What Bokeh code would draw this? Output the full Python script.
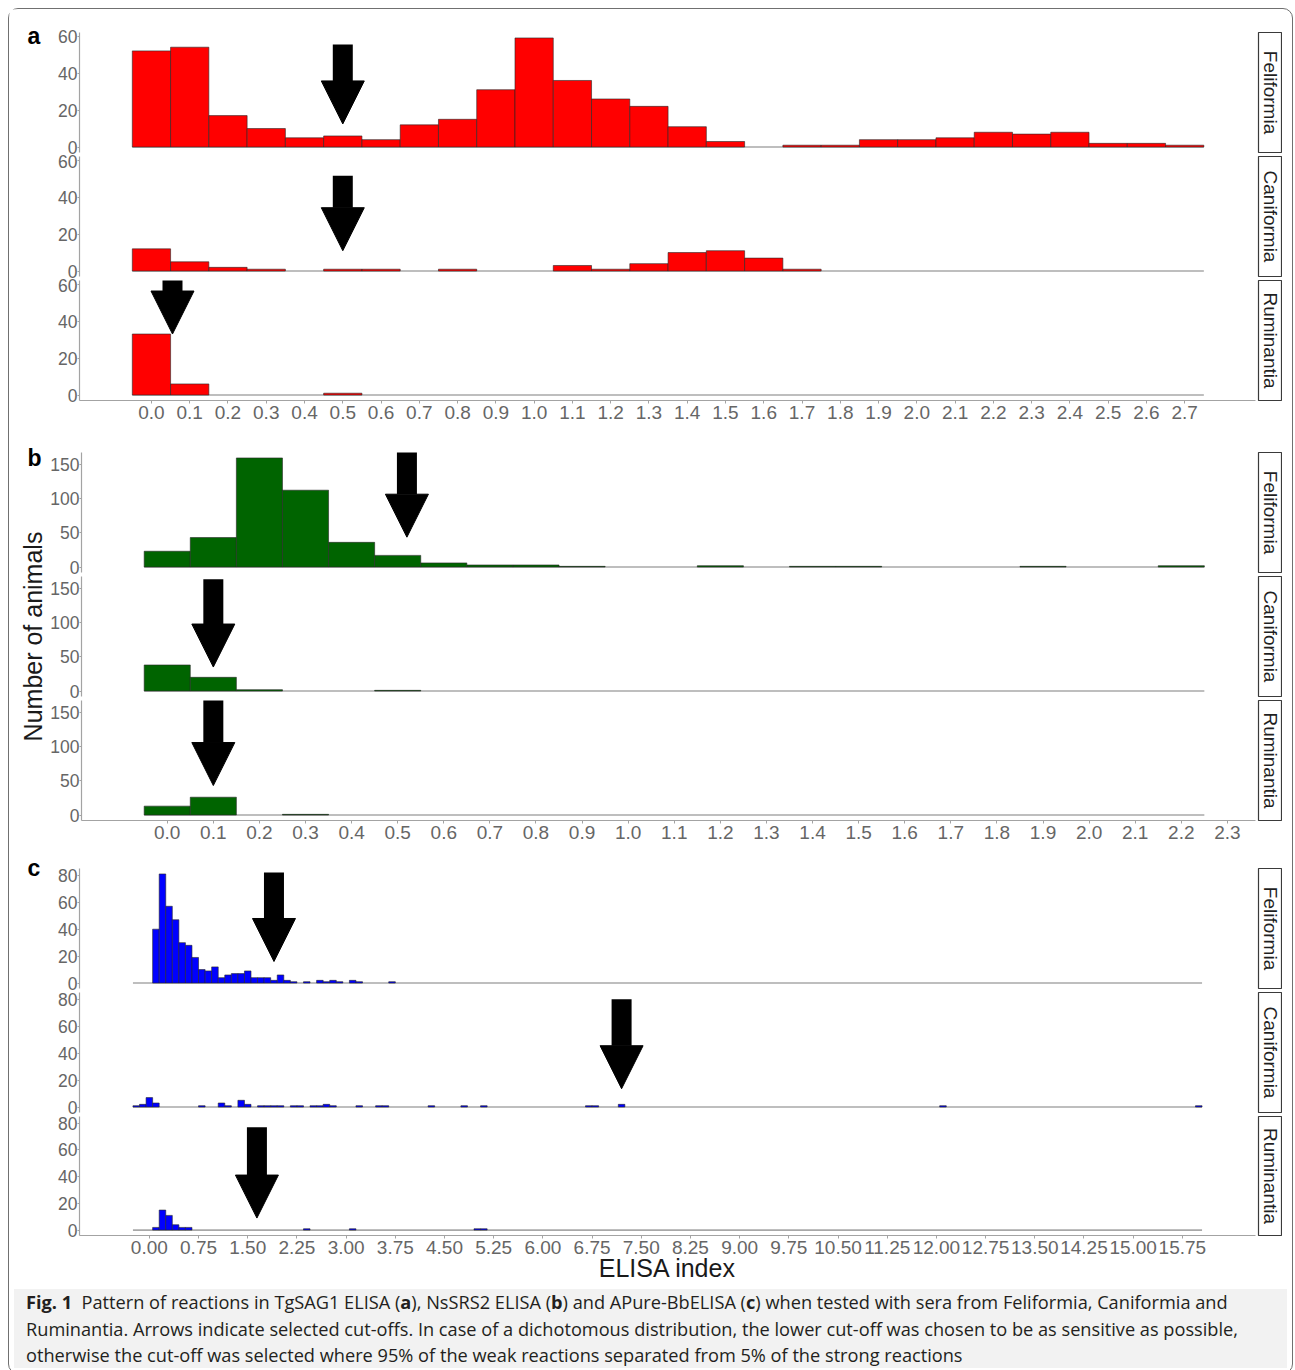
import numpy as np
from bokeh.plotting import figure
from bokeh.layouts import column, row
from bokeh.models import (Range1d, FixedTicker, NumeralTickFormatter, Arrow,
                          NormalHead, Div, AllLabels)
from bokeh.core.properties import value
from bokeh.embed import file_html
from bokeh.resources import INLINE

# ---------------------------------------------------------------- data
GROUPS = ["Feliformia", "Caniformia", "Ruminantia"]
BIN = 0.1  # histogram bin width (ELISA index units)

# panel a : TgSAG1 ELISA
a_centers = [0.0, 0.1, 0.2, 0.3, 0.4, 0.5, 0.6, 0.7, 0.8, 0.9, 1.0, 1.1, 1.2, 1.3,
             1.4, 1.5, 1.6, 1.7, 1.8, 1.9, 2.0, 2.1, 2.2, 2.3, 2.4, 2.5, 2.6, 2.7]
a_feli = [52, 54, 17, 10, 5, 6, 4, 12, 15, 31, 59, 36, 26, 22,
          11, 3, 0, 1, 1, 4, 4, 5, 8, 7, 8, 2, 2, 1]
a_cani = [12, 5, 2, 1, 0, 1, 1, 0, 1, 0, 0, 3, 1, 4,
          10, 11, 7, 1, 0, 0, 0, 0, 0, 0, 0, 0, 0, 0]
a_rumi = [33, 6, 0, 0, 0, 1, 0, 0, 0, 0, 0, 0, 0, 0,
          0, 0, 0, 0, 0, 0, 0, 0, 0, 0, 0, 0, 0, 0]
a_xticks = [0.0, 0.1, 0.2, 0.3, 0.4, 0.5, 0.6, 0.7, 0.8, 0.9, 1.0, 1.1, 1.2, 1.3,
            1.4, 1.5, 1.6, 1.7, 1.8, 1.9, 2.0, 2.1, 2.2, 2.3, 2.4, 2.5, 2.6, 2.7]
a_yticks = [0, 20, 40, 60]
a_cut_x = [0.5, 0.5, 0.055]
a_arrow_top = [55.5, 51.5, 64.0]
a_arrow_tip = [12.5, 11.0, 33.0]

# panel b : NsSRS2 ELISA
b_centers = [0.0, 0.1, 0.2, 0.3, 0.4, 0.5, 0.6, 0.7, 0.8, 0.9, 1.0, 1.1,
             1.2, 1.3, 1.4, 1.5, 1.6, 1.7, 1.8, 1.9, 2.0, 2.1, 2.2]
b_feli = [23, 43, 159, 112, 36, 17, 6, 3, 3, 1, 0, 0,
          2, 0, 1, 1, 0, 0, 0, 1, 0, 0, 2]
b_cani = [38, 20, 2, 0, 0, 1, 0, 0, 0, 0, 0, 0,
          0, 0, 0, 0, 0, 0, 0, 0, 0, 0, 0]
b_rumi = [13, 26, 0, 1, 0, 0, 0, 0, 0, 0, 0, 0,
          0, 0, 0, 0, 0, 0, 0, 0, 0, 0, 0]
b_xticks = [0.0, 0.1, 0.2, 0.3, 0.4, 0.5, 0.6, 0.7, 0.8, 0.9, 1.0, 1.1,
            1.2, 1.3, 1.4, 1.5, 1.6, 1.7, 1.8, 1.9, 2.0, 2.1, 2.2, 2.3]
b_yticks = [0, 50, 100, 150]
b_cut_x = [0.52, 0.1, 0.1]
b_arrow_top = [183.0, 163.0, 170.0]
b_arrow_tip = [43.5, 35.0, 43.0]

# panel c : APure-BbELISA (only non-empty bins listed; bins run from -0.2 to 16.0)
c_bin_lo, c_bin_hi = -0.2, 16.0
c_feli_x = [0.1, 0.2, 0.3, 0.4, 0.5, 0.6, 0.7, 0.8, 0.9, 1.0, 1.1, 1.2, 1.3, 1.4,
            1.5, 1.6, 1.7, 1.8, 1.9, 2.0, 2.1, 2.2, 2.4, 2.6, 2.7, 2.8, 2.9, 3.1, 3.2, 3.7]
c_feli_n = [40, 81, 57, 47, 30, 28, 19, 10, 9, 12, 4, 6, 7, 7,
            9, 4, 4, 4, 2, 6, 2, 1, 1, 2, 1, 2, 1, 2, 1, 1]
c_cani_x = [-0.2, -0.1, 0.0, 0.1, 0.8, 1.1, 1.2, 1.4, 1.5, 1.7, 1.8, 1.9, 2.0, 2.2, 2.3,
            2.5, 2.6, 2.7, 2.8, 3.2, 3.5, 3.6, 4.3, 4.8, 5.1, 6.7, 6.8, 7.2, 12.1, 16.0]
c_cani_n = [1, 2, 7, 3, 1, 3, 1, 5, 2, 1, 1, 1, 1, 1, 1,
            1, 1, 2, 1, 1, 1, 1, 1, 1, 1, 1, 1, 2, 1, 1]
c_rumi_x = [0.1, 0.2, 0.3, 0.4, 0.5, 0.6, 2.4, 3.1, 5.0, 5.1]
c_rumi_n = [2, 15, 11, 4, 2, 2, 1, 1, 1, 1]
c_xticks = [0.0, 0.75, 1.5, 2.25, 3.0, 3.75, 4.5, 5.25, 6.0, 6.75, 7.5, 8.25, 9.0,
            9.75, 10.5, 11.25, 12.0, 12.75, 13.5, 14.25, 15.0, 15.75]
c_yticks = [0, 20, 40, 60, 80]
c_cut_x = [1.9, 7.2, 1.64]
c_arrow_top = [82.0, 80.0, 77.0]
c_arrow_tip = [16.0, 13.6, 9.0]

Y_TITLE = "Number of animals"
X_TITLE = "ELISA index"
CAPTION = ('<b>Fig. 1</b>&nbsp; Pattern of reactions in TgSAG1 ELISA (<b>a</b>), NsSRS2 ELISA (<b>b</b>) '
           'and APure-BbELISA (<b>c</b>) when tested with sera from Feliformia, Caniformia and<br>'
           'Ruminantia. Arrows indicate selected cut-offs. In case of a dichotomous distribution, '
           'the lower cut-off was chosen to be as sensitive as possible,<br>'
           'otherwise the cut-off was selected where 95% of the weak reactions separated from 5% '
           'of the strong reactions')

# ---------------------------------------------------------------- style
FONT = "Liberation Sans"
SIDE_W = 38                     # strip of page holding panel letters / y title
LEFT_B, FRAME_W, RIGHT_B = 32, 1176, 2
FRAME_H = 120
AXIS_C = "#a3a3a3"
TICK_TXT = "#666666"
BAR_LINE = "#262626"


def style_axis(ax, size):
    ax.axis_line_color = AXIS_C
    ax.axis_line_width = 1.2
    ax.major_tick_line_color = AXIS_C
    ax.major_tick_out = 2
    ax.major_tick_in = 0
    ax.minor_tick_line_color = None
    ax.major_label_text_font = FONT
    ax.major_label_text_font_size = size
    ax.major_label_text_color = TICK_TXT
    ax.major_label_standoff = 0
    ax.major_label_policy = AllLabels()


def facet(centers, counts, color, xr, yr, yticks, lo, hi, top_b, bot_b,
          cut, a_top, a_tip, xticks=None, fmt=None):
    h = top_b + FRAME_H + bot_b
    p = figure(width=LEFT_B + FRAME_W + RIGHT_B, height=h,
               x_range=Range1d(*xr), y_range=Range1d(*yr),
               output_backend="svg", toolbar_location=None,
               x_axis_location="below" if xticks is not None else None,
               min_border_left=LEFT_B, min_border_right=RIGHT_B,
               min_border_top=top_b, min_border_bottom=bot_b)
    p.outline_line_color = None
    p.grid.visible = False
    p.border_fill_color = "white"
    # zero line spanning every bin (empty bins)
    p.segment(x0=[lo - BIN / 2], y0=[0], x1=[hi + BIN / 2], y1=[0],
              line_color="#a8a8a8", line_width=1.6)
    c = np.asarray(centers, float)
    n = np.asarray(counts, float)
    m = n > 0
    p.quad(left=c[m] - BIN / 2, right=c[m] + BIN / 2, bottom=0, top=n[m],
           fill_color=color, line_color=BAR_LINE, line_width=0.6)
    ya = p.yaxis[0]
    ya.ticker = FixedTicker(ticks=yticks)
    style_axis(ya, "17.5px")
    if xticks is not None:
        xa = p.xaxis[0]
        xa.ticker = FixedTicker(ticks=xticks)
        xa.formatter = NumeralTickFormatter(format=fmt)
        style_axis(xa, "19px")
        xa.major_tick_out = 3
        xa.major_label_standoff = 2
    # cut-off arrow
    p.add_layout(Arrow(x_start=cut, y_start=a_top, x_end=cut, y_end=a_tip,
                       line_color="black", line_width=20, line_cap="butt",
                       end=NormalHead(size=43, fill_color="black",
                                      line_color="black", line_width=1)))
    return p


def strip(label, top_b, bot_b):
    s = figure(width=25, height=top_b + FRAME_H + bot_b,
               x_range=Range1d(0, 1), y_range=Range1d(0, 1),
               output_backend="svg", toolbar_location=None,
               x_axis_location=None, y_axis_location=None,
               min_border_left=1, min_border_right=1,
               min_border_top=top_b, min_border_bottom=bot_b)
    s.grid.visible = False
    s.outline_line_color = "#3a3a3a"
    s.outline_line_width = 1.2
    s.background_fill_color = "white"
    s.text(x=[0.5], y=[0.5], text=[label], angle=-np.pi / 2,
           text_align="center", text_baseline="middle",
           text_font=value(FONT), text_font_size="19px", text_color="#1f1f1f")
    return s


def side(height, letter, letter_from_top, title=None, title_from_top=None):
    # narrow canvas left of the facets, in pixel units, for the panel letter
    s = figure(width=SIDE_W, height=height,
               x_range=Range1d(0, SIDE_W), y_range=Range1d(0, height),
               output_backend="svg", toolbar_location=None,
               x_axis_location=None, y_axis_location=None, min_border=0)
    s.grid.visible = False
    s.outline_line_color = None
    s.border_fill_color = "white"
    s.text(x=[18], y=[height - letter_from_top], text=[letter],
           text_align="left", text_baseline="middle", text_font=value(FONT),
           text_font_size="23px", text_font_style="bold", text_color="black")
    if title is not None:
        s.text(x=[SIDE_W - 14.5], y=[height - title_from_top], text=[title],
               angle=np.pi / 2, text_align="center", text_baseline="middle",
               text_font=value(FONT), text_font_size="25px", text_color="#1a1a1a")
    return s


def panel(letter, data, color, xr, yr, yticks, lo, hi, borders,
          cuts, tops, tips, xticks, fmt, letter_from_top, title=None):
    rows = []
    figs = []
    total = 0
    for i, g in enumerate(GROUPS):
        centers, counts = data[i]
        tb, bb = borders[i]
        total += tb + FRAME_H + bb
        last = i == 2
        p = facet(centers, counts, color, xr, yr, yticks, lo, hi, tb, bb,
                  cuts[i], tops[i], tips[i],
                  xticks if last else None, fmt if last else None)
        figs.append(p)
        rows.append(row(p, strip(g, tb, bb)))
    sd = side(total, letter, letter_from_top, title, 206 if title else None)
    return row(sd, column(*rows)), figs


block_a, figs_a = panel(
    "a", [(a_centers, a_feli), (a_centers, a_cani), (a_centers, a_rumi)], "#ff0000",
    (-0.188, 2.885), (-2.95, 61.95), a_yticks, a_centers[0], a_centers[-1],
    [(23, 2), (2, 2), (2, 30)], a_cut_x, a_arrow_top, a_arrow_tip, a_xticks, "0.0", 26)

block_b, figs_b = panel(
    "b", [(b_centers, b_feli), (b_centers, b_cani), (b_centers, b_rumi)], "#006400",
    (-0.186, 2.361), (-7.95, 166.95), b_yticks, b_centers[0], b_centers[-1],
    [(22, 2), (2, 2), (2, 30)], b_cut_x, b_arrow_top, b_arrow_tip, b_xticks, "0.0", 27,
    title=Y_TITLE)

block_c, figs_c = panel(
    "c", [(c_feli_x, c_feli_n), (c_cani_x, c_cani_n), (c_rumi_x, c_rumi_n)], "#0000ff",
    (-1.065, 16.865), (-4.05, 85.05), c_yticks, c_bin_lo, c_bin_hi,
    [(18, 2), (2, 2), (2, 48)], c_cut_x, c_arrow_top, c_arrow_tip, c_xticks, "0.00", 17)

# x-axis title under panel c
xc = figs_c[2].xaxis[0]
xc.axis_label = X_TITLE
xc.axis_label_text_font = FONT
xc.axis_label_text_font_size = "25px"
xc.axis_label_text_font_style = "normal"
xc.axis_label_text_color = "#1a1a1a"
xc.axis_label_standoff = -3

caption = Div(
    text=('<div style="width:1273px;height:79px;box-sizing:border-box;background:#f2f2f2;'
          'font-family:\'Open Sans\';font-size:18.2px;line-height:26.5px;color:#231f20;'
          'padding:0 0 0 12px;white-space:nowrap;overflow:hidden;">' + CAPTION + '</div>'),
    width=1273, height=79)

root = column(block_a, block_b, block_c, caption,
              styles={"border": "1px solid #707070", "border-radius": "10px",
                      "background-color": "white", "margin": "8px 8px 0 8px"})

open("out.html", "w").write(file_html(root, INLINE, title="Fig. 1"))
